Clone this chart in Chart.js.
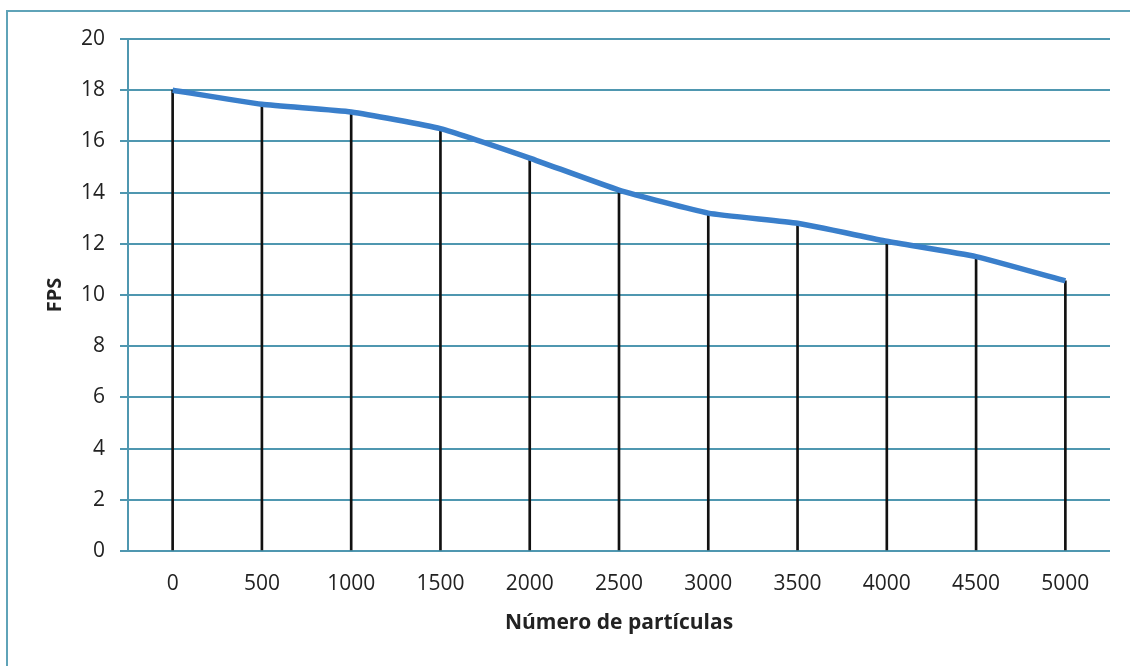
<!DOCTYPE html>
<html>
<head>
<meta charset="utf-8">
<script src="https://cdn.jsdelivr.net/npm/chart.js@4/dist/chart.umd.min.js"></script>
<style>
html,body{margin:0;padding:0;background:#fff;}
#wrap{width:1130px;height:666px;position:relative;}
</style>
</head>
<body>
<div id="wrap"><canvas id="c" width="1130" height="666"></canvas></div>
<script>
const categories = ["0","500","1000","1500","2000","2500","3000","3500","4000","4500","5000"];
const fpsValues = [18.0, 17.45, 17.15, 16.5, 15.35, 14.1, 13.2, 12.8, 12.1, 11.5, 10.55];
const yTicks = {min: 0, max: 20, step: 2};
const xTitle = "Número de partículas";
const yTitle = "FPS";

const gridColor = "#4f97b0";
const textColor = "#222";
const fontFamily = "'Open Sans', 'DejaVu Sans', sans-serif";

const framePlugin = {
  id: 'frame',
  beforeDraw(chart) {
    const ctx = chart.ctx;
    ctx.save();
    ctx.strokeStyle = "#5fa3b8";
    ctx.lineWidth = 2;
    ctx.beginPath();
    ctx.moveTo(7, 666);
    ctx.lineTo(7, 11);
    ctx.lineTo(1130, 11);
    ctx.stroke();
    ctx.restore();
  }
};

new Chart(document.getElementById('c'), {
  data: {
    labels: categories,
    datasets: [
      {
        type: 'line',
        data: fpsValues,
        borderColor: '#3a7fcb',
        borderWidth: 5.5,
        pointRadius: 0,
        tension: 0.15,
        order: 0
      },
      {
        type: 'bar',
        data: fpsValues,
        backgroundColor: '#111',
        barThickness: 2,
        order: 1
      }
    ]
  },
  options: {
    responsive: false,
    animation: false,
    devicePixelRatio: 1,
    layout: {padding: {left: 0, top: 39, right: 20, bottom: 0}},
    plugins: {legend: {display: false}, tooltip: {enabled: false}},
    scales: {
      x: {
        offset: true,
        grid: {display: false, drawTicks: false},
        border: {display: false},
        ticks: {color: textColor, font: {family: fontFamily, size: 21}, padding: 20, maxRotation: 0, autoSkip: false},
        title: {display: true, text: xTitle, color: textColor, font: {family: fontFamily, size: 21, weight: 'bold'}, padding: {top: 0, bottom: 30}},
        afterFit(s) { s.height = 115; }
      },
      y: {
        min: yTicks.min, max: yTicks.max,
        grid: {color: gridColor, lineWidth: 2, tickLength: 8, drawTicks: true},
        border: {display: true, color: gridColor, width: 2},
        ticks: {stepSize: yTicks.step, color: textColor, font: {family: fontFamily, size: 21}, padding: 15},
        title: {display: true, text: yTitle, color: textColor, font: {family: fontFamily, size: 20, weight: 'bold'}, padding: {top: 43, bottom: 0}},
        afterFit(s) { s.width = 128; }
      }
    }
  },
  plugins: [framePlugin]
});
</script>
</body>
</html>
